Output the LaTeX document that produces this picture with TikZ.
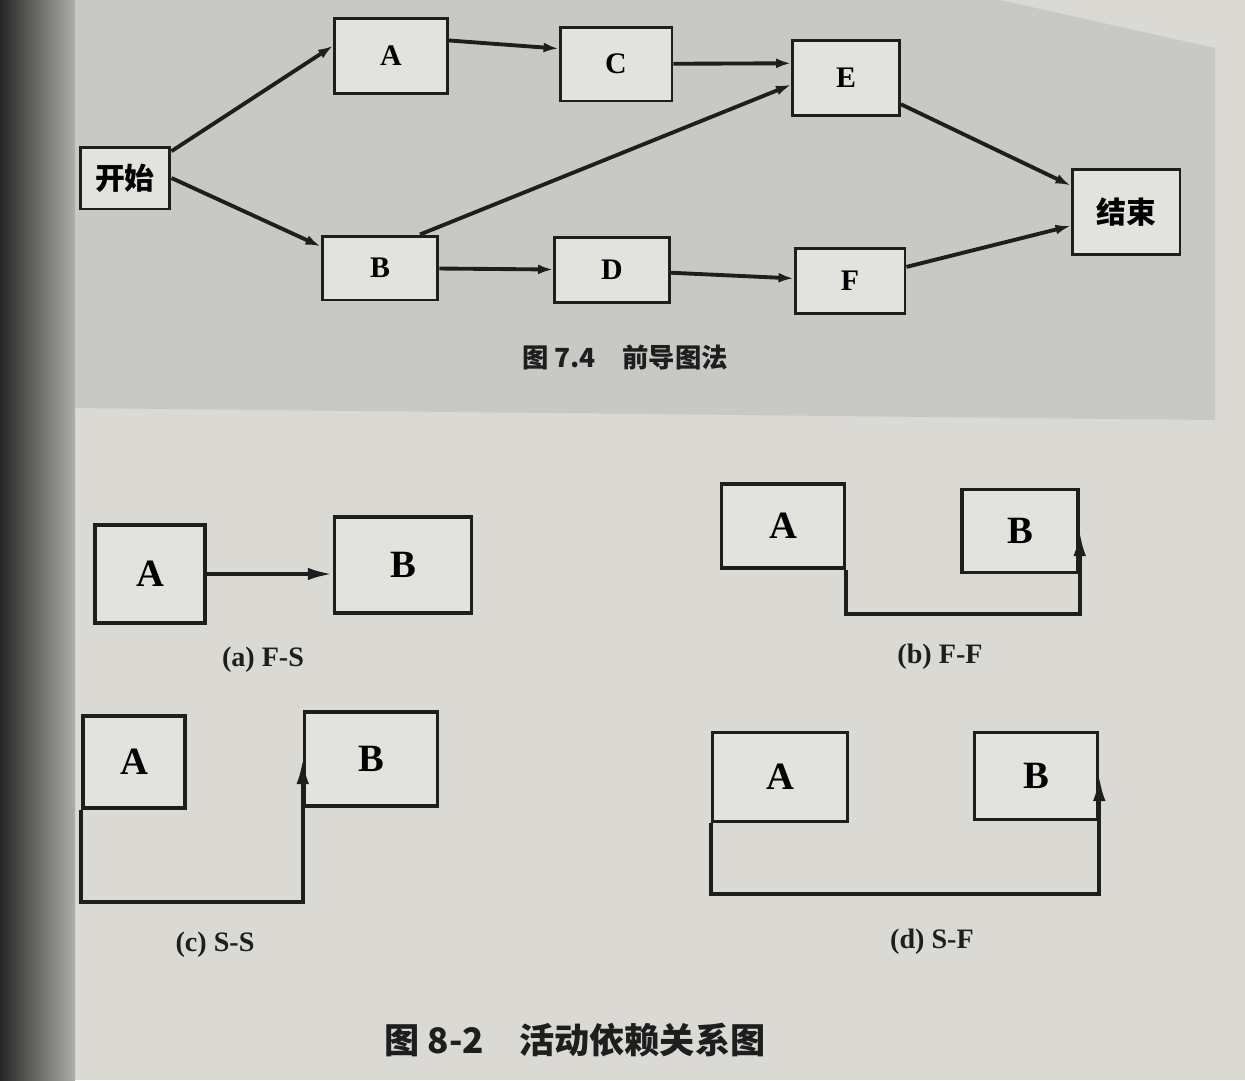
\documentclass[tikz,border=0pt]{standalone}
\usepackage{fontspec}
\setmainfont{Liberation Serif}
\newfontfamily\cjk{Noto Sans CJK SC}
\usetikzlibrary{arrows.meta}
\definecolor{pagegray}{HTML}{DAD9D4}
\definecolor{panelgray}{HTML}{C8C8C5}
\definecolor{boxgray}{HTML}{E2E2DE}
\definecolor{ink}{HTML}{1E1E1E}

\begin{document}
\begin{tikzpicture}[x=0.02cm, y=-0.02cm,
  box/.style={draw=ink, line width=1.7pt, fill=boxgray, inner sep=0pt,
    font=\bfseries\fontsize{17}{17}\selectfont},
  bigbox/.style={draw=ink, line width=2pt, fill=boxgray, inner sep=0pt,
    font=\bfseries\fontsize{22}{22}\selectfont},
  edge/.style={draw=ink, line width=2.2pt, -{Latex[length=0.3cm,width=0.2cm]}},
  link/.style={draw=ink, line width=2.2pt, -{Latex[length=0.5cm,width=0.25cm]}},
  caption/.style={font=\bfseries\fontsize{16}{16}\selectfont, text=ink}]
\useasboundingbox (0,0) rectangle (1245,1080);
% page and binding
\fill[pagegray] (0,0) rectangle (1245,1080);
\shade[left color=black!85, right color=pagegray!80!black] (0,0) rectangle (75,1080);
\fill[panelgray] (75,0) -- (1000,0) -- (1215,48) -- (1215,420) -- (75,408) -- cycle;

% precedence diagram
\node[box, minimum width=1.8cm, minimum height=1.24cm] (start) at (125,178) {\cjk\bfseries 开始};
\node[box, minimum width=2.26cm, minimum height=1.5cm] (A) at (391,56) {A};
\node[box, minimum width=2.24cm, minimum height=1.48cm] (C) at (616,64) {C};
\node[box, minimum width=2.14cm, minimum height=1.5cm] (E) at (846,78) {E};
\node[box, minimum width=2.32cm, minimum height=1.28cm] (B) at (380,268) {B};
\node[box, minimum width=2.3cm, minimum height=1.3cm] (D) at (612,270) {D};
\node[box, minimum width=2.2cm, minimum height=1.3cm] (F) at (850,281) {F};
\node[box, minimum width=2.16cm, minimum height=1.7cm] (end) at (1126,212) {\cjk\bfseries 结束};

\path[edge] (start.30) -- (A.170);
\path[edge] (start.east) -- (B.160);
\path[edge] (A.15) -- (C.165);
\path[edge] (C) -- (E.165);
\path[edge] (B.40) -- (E.187);
\path[edge] (E) -- (end);
\path[edge] (B) -- (D);
\path[edge] (D) -- (F);
\path[edge] (F) -- (end);

\node[font=\cjk\bfseries\fontsize{15}{15}\selectfont, text=ink] (cap74) at (625,357) {图 7.4\quad 前导图法};

% (a) F-S
\node[bigbox, minimum width=2.2cm, minimum height=1.96cm] (aA) at (150,574) {A};
\node[bigbox, minimum width=2.74cm, minimum height=1.92cm] (aB) at (403,565) {B};
\path[link] (aA.east) -- (aA.east -| aB.west);
\node[caption] (capa) at (263,660) {(a)\ F-S};

% (b) F-F
\node[bigbox, minimum width=2.46cm, minimum height=1.68cm] (bA) at (783,526) {A};
\node[bigbox, minimum width=2.32cm, minimum height=1.66cm] (bB) at (1020,531) {B};
\path[link] (bA.south east) -- ++(0,44) -| (bB.east);
\node[caption] (capb) at (940,657) {(b)\ F-F};

% (c) S-S
\node[bigbox, minimum width=2.04cm, minimum height=1.84cm] (cA) at (134,762) {A};
\node[bigbox, minimum width=2.66cm, minimum height=1.88cm] (cB) at (371,759) {B};
\path[link] (cA.south west) -- ++(0,92) -| (cB.west);
\node[caption] (capc) at (215,945) {(c)\ S-S};

% (d) S-F
\node[bigbox, minimum width=2.7cm, minimum height=1.78cm] (dA) at (780,777) {A};
\node[bigbox, minimum width=2.46cm, minimum height=1.74cm] (dB) at (1036,776) {B};
\path[link] (dA.south west) -- ++(0,71) -| (dB.east);
\node[caption] (capd) at (932,942) {(d)\ S-F};

\node[font=\cjk\bfseries\fontsize{20}{20}\selectfont, text=ink] (cap82) at (575,1040) {图 8-2\quad 活动依赖关系图};
\end{tikzpicture}
\end{document}
